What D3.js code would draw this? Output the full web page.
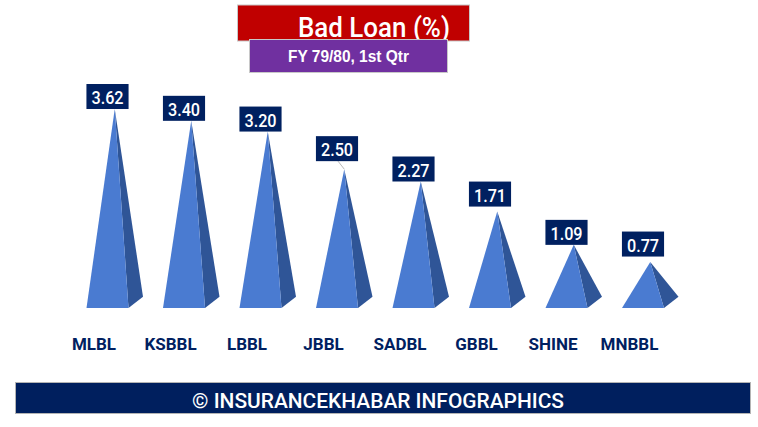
<!DOCTYPE html>
<html>
<head>
<meta charset="utf-8">
<script src="https://cdn.jsdelivr.net/npm/d3@7"></script>
<style>
  body { margin: 0; background: #fff; }
  svg { display: block; }
</style>
</head>
<body>
<svg width="758" height="427"></svg>
<script>
const banks = ["MLBL", "KSBBL", "LBBL", "JBBL", "SADBL", "GBBL", "SHINE", "MNBBL"];
const badLoan = [3.62, 3.40, 3.20, 2.50, 2.27, 1.71, 1.09, 0.77];
// how far each value box floats above its apex (as laid out in the original)
const labelGap = [0, 0, 0, 8, 0, 5, 0, 5.5];

const svg = d3.select("svg");

const x = d3.scaleBand()
    .domain(banks)
    .range([55.75, 667.75]);

const y = d3.scaleLinear()
    .domain([0, 4])
    .range([303.4, 88.6]);

const floorY = 308;      // pyramid base sits a bit under zero (3D floor)
const shift = 13.5;      // front face is pushed right of the band centre
const halfW = 21;
const depthX = 14.5, depthY = -11.3;

const front = d => x(d.name) + x.bandwidth() / 2 + shift;
const apex = d => [front(d) + depthX / 2, y(d.value)];

const data = banks.map((name, i) => ({ name, value: badLoan[i], gap: labelGap[i] }));

// title boxes
svg.append("rect")
    .attr("x", 237.5).attr("y", 5).attr("width", 232).attr("height", 36)
    .attr("fill", "#C00000").attr("stroke", "#c8c8c8").attr("stroke-width", 1);
svg.append("text")
    .attr("x", 298).attr("y", 36.7)
    .attr("font-family", "Roboto, sans-serif").attr("font-size", 27)
    .attr("font-weight", 500)
    .attr("fill", "#fff")
    .attr("textLength", 152).attr("lengthAdjust", "spacingAndGlyphs")
    .text("Bad Loan (%)");

svg.append("rect")
    .attr("x", 249.5).attr("y", 39.5).attr("width", 198).attr("height", 33)
    .attr("fill", "#7030A0").attr("stroke", "#c8c8c8").attr("stroke-width", 1);
svg.append("text")
    .attr("x", 348.5).attr("y", 61.7)
    .attr("text-anchor", "middle")
    .attr("font-family", "'Liberation Sans Narrow', 'Arial Narrow', sans-serif")
    .attr("font-weight", "bold").attr("font-size", 17)
    .attr("fill", "#fff")
    .attr("textLength", 121).attr("lengthAdjust", "spacingAndGlyphs")
    .text("FY 79/80, 1st Qtr");

// pyramids
const pyr = svg.append("g").selectAll("g")
    .data(data)
    .join("g");

// side face
pyr.append("path")
    .attr("d", d => {
        const [ax, ay] = apex(d);
        const r = front(d) + halfW;
        return `M${r},${floorY}L${r + depthX},${floorY + depthY}L${ax},${ay}Z`;
    })
    .attr("fill", "#2F5597");

// front face
pyr.append("path")
    .attr("d", d => {
        const [ax, ay] = apex(d);
        const c = front(d);
        return `M${c - halfW},${floorY}L${c + halfW},${floorY}L${ax},${ay}Z`;
    })
    .attr("fill", "#4A7BD1");

// leader lines where the box floats off the apex
pyr.filter(d => d.gap > 6).append("line")
    .attr("x1", d => front(d) + 1)
    .attr("x2", d => apex(d)[0])
    .attr("y1", d => y(d.value) - d.gap)
    .attr("y2", d => y(d.value))
    .attr("stroke", "#a6a6a6").attr("stroke-width", 0.8);

// value labels
const boxes = pyr.append("rect")
    .attr("y", d => y(d.value) - d.gap - 25)
    .attr("height", 25)
    .attr("fill", "#002060");

const vals = pyr.append("text")
    .attr("x", d => front(d))
    .attr("y", d => y(d.value) - d.gap - 5)
    .attr("text-anchor", "middle")
    .attr("font-family", "Roboto, sans-serif")
    .attr("font-weight", 500)
    .attr("font-size", 18)
    .attr("fill", "#fff")
    .text(d => d.value.toFixed(2));

vals.each(function (d) {
    const w = this.getComputedTextLength() * 0.9;
    d3.select(this).attr("textLength", w).attr("lengthAdjust", "spacingAndGlyphs");
    d.boxW = w + 10;
});
boxes
    .attr("x", d => front(d) - d.boxW / 2)
    .attr("width", d => d.boxW);

// category axis
const axis = svg.append("g")
    .attr("transform", `translate(0,${floorY})`)
    .call(d3.axisBottom(x).tickSize(0).tickPadding(0));
axis.select(".domain").remove();
axis.selectAll("text")
    .attr("y", 42)
    .attr("dy", null)
    .attr("font-family", "Roboto, sans-serif")
    .attr("font-weight", "bold")
    .attr("font-size", 17)
    .attr("fill", "#002060");

// footer banner
svg.append("rect")
    .attr("x", 15.5).attr("y", 382.5).attr("width", 735).attr("height", 31)
    .attr("fill", "#001F5E").attr("stroke", "#b4b4b4").attr("stroke-width", 1);
svg.append("text")
    .attr("x", 378).attr("y", 407.7)
    .attr("text-anchor", "middle")
    .attr("font-family", "Roboto, sans-serif")
    .attr("font-size", 21)
    .attr("font-weight", 500)
    .attr("fill", "#fff")
    .attr("textLength", 372).attr("lengthAdjust", "spacingAndGlyphs")
    .text("© INSURANCEKHABAR INFOGRAPHICS");
</script>
</body>
</html>
